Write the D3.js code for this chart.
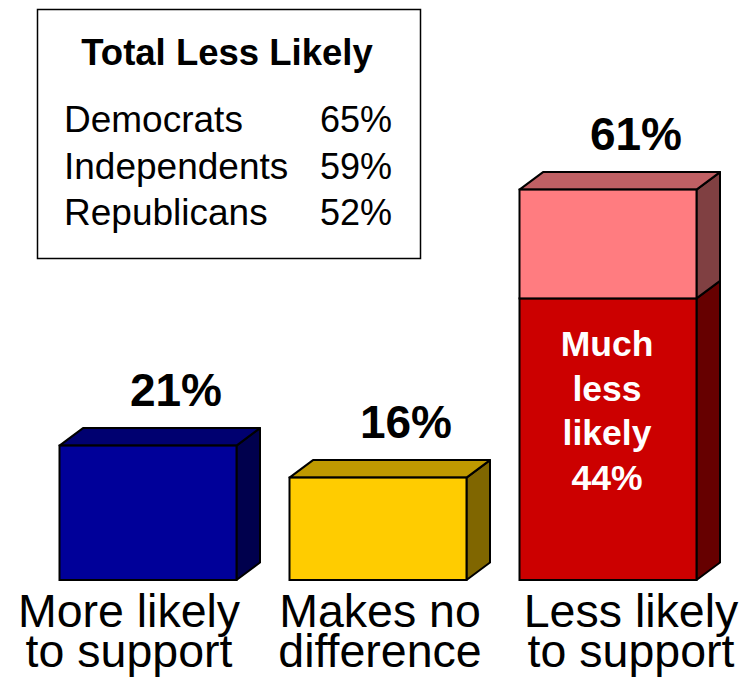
<!DOCTYPE html>
<html>
<head>
<meta charset="utf-8">
<script src="https://cdn.jsdelivr.net/npm/d3@7"></script>
<style>
  html, body { margin: 0; padding: 0; background: #ffffff; }
  svg { display: block; }
  text { font-family: "Liberation Sans", Arial, Helvetica, sans-serif; }
</style>
</head>
<body>
<svg id="chart" width="754" height="678"></svg>
<script>
// ---- data ----
const categories = ["More likely to support", "Makes no difference", "Less likely to support"];
const categoryLines = [["More likely", "to support"], ["Makes no", "difference"], ["Less likely", "to support"]];
const baseValues = [21, 16, 44];      // lower segment
const extraValues = [0, 0, 17];       // upper segment (somewhat less likely)
const totalLabels = ["21%", "16%", "61%"];
const innerLabelLines = ["Much", "less", "likely", "44%"];
const legendTitle = "Total Less Likely";
const partyNames = ["Democrats", "Independents", "Republicans"];
const partyValues = ["65%", "59%", "52%"];

// colours: [front, top, side]
const baseColors = [
  ["#000099", "#000070", "#00004d"],
  ["#ffcc00", "#bf9900", "#806600"],
  ["#cc0000", "#990000", "#660000"]
];
const extraColors = [
  null, null,
  ["#ff7c80", "#c06064", "#804042"]
];

const svg = d3.select("#chart");
const DX = 23.5, DY = 17.5;

const x = d3.scaleBand().domain(categories).range([59.5, 696.5]).paddingInner(53 / 230).paddingOuter(0);
const y = d3.scaleLinear().domain([0, 100]).range([580, -60]);
const xLabel = d3.scalePoint().domain(categories).range([129, 631]);

function box(g, x0, w, yTop, yBot, cols, drawTop) {
  const x1 = x0 + w;
  g.append("polygon")
    .attr("points", [[x1, yBot], [x1 + DX, yBot - DY], [x1 + DX, yTop - DY], [x1, yTop]].map(p => p.join(",")).join(" "))
    .attr("fill", cols[2]).attr("stroke", "#000").attr("stroke-width", 2).attr("stroke-linejoin", "round");
  if (drawTop) {
    g.append("polygon")
      .attr("points", [[x0, yTop], [x0 + DX, yTop - DY], [x1 + DX, yTop - DY], [x1, yTop]].map(p => p.join(",")).join(" "))
      .attr("fill", cols[1]).attr("stroke", "#000").attr("stroke-width", 2).attr("stroke-linejoin", "round");
  }
  g.append("rect")
    .attr("x", x0).attr("y", yTop).attr("width", w).attr("height", yBot - yTop)
    .attr("fill", cols[0]).attr("stroke", "#000").attr("stroke-width", 2);
}

const bars = svg.append("g");
categories.forEach((c, i) => {
  const g = bars.append("g");
  const x0 = x(c), w = x.bandwidth();
  const hasExtra = extraValues[i] > 0;
  box(g, x0, w, y(baseValues[i]), y(0), baseColors[i], !hasExtra);
  if (hasExtra) {
    box(g, x0, w, y(baseValues[i] + extraValues[i]), y(baseValues[i]), extraColors[i], true);
  }
  svg.append("text")
    .attr("x", x0 + w / 2 + 28)
    .attr("y", y(baseValues[i] + extraValues[i]) - 40)
    .attr("text-anchor", "middle")
    .attr("font-size", 46).attr("font-weight", "bold").attr("fill", "#000")
    .text(totalLabels[i]);
});

// inner label on the "much less likely" segment
const c3 = categories[2];
const inner = svg.append("text")
  .attr("text-anchor", "middle")
  .attr("font-size", 35.5).attr("font-weight", "bold").attr("fill", "#ffffff");
innerLabelLines.forEach((t, k) => {
  inner.append("tspan")
    .attr("x", x(c3) + x.bandwidth() / 2 - 1)
    .attr("y", y(baseValues[2]) + 58 + k * 44.5)
    .text(t);
});

// category labels
categories.forEach((c, i) => {
  const t = svg.append("text")
    .attr("text-anchor", "middle")
    .attr("font-size", 46.5).attr("fill", "#000");
  categoryLines[i].forEach((line, k) => {
    t.append("tspan").attr("x", xLabel(c)).attr("y", 626.5 + k * 40).text(line);
  });
});

// legend box
const lg = svg.append("g");
lg.append("rect")
  .attr("x", 37.5).attr("y", 9.5).attr("width", 383).attr("height", 249)
  .attr("fill", "#fff").attr("stroke", "#000").attr("stroke-width", 1.5);
lg.append("text")
  .attr("x", 227).attr("y", 65)
  .attr("text-anchor", "middle")
  .attr("font-size", 36.5).attr("font-weight", "bold")
  .text(legendTitle);
partyNames.forEach((n, i) => {
  lg.append("text").attr("x", 64).attr("y", 132 + i * 46.5)
    .attr("font-size", 37).text(n);
  lg.append("text").attr("x", 392).attr("y", 132 + i * 46.5)
    .attr("font-size", 36).attr("text-anchor", "end").text(partyValues[i]);
});
</script>
</body>
</html>
